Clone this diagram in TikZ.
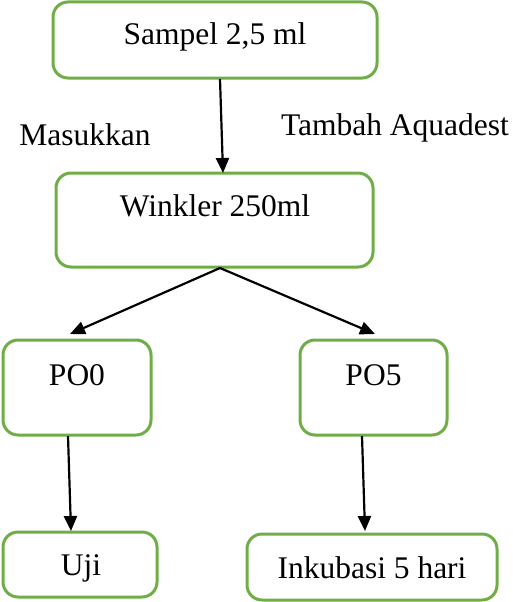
\documentclass[tikz,border=0pt]{standalone}
\usepackage{fontspec}
\setmainfont{Liberation Serif}
\usetikzlibrary{arrows.meta}
\definecolor{boxgreen}{RGB}{112,173,71}
\begin{document}
\begin{tikzpicture}[x=1pt,y=-1pt,
  box/.style={draw=boxgreen,line width=3pt,rounded corners=15pt,inner sep=0pt},
  txt/.style={anchor=base,inner sep=0pt,font=\fontsize{31.5}{38}\selectfont},
  arr/.style={line width=2.2pt,-{Triangle[length=15pt,width=13pt]}}]
\useasboundingbox (0,0) rectangle (512,602);
% boxes
\node[box,minimum width=324pt,minimum height=76pt] (b1) at (215,40) {};
\node[box,minimum width=317pt,minimum height=94pt] (b2) at (214.5,220) {};
\node[box,minimum width=148pt,minimum height=95pt] (b3) at (77,387.5) {};
\node[box,minimum width=147pt,minimum height=95pt] (b4) at (373.5,387.5) {};
\node[box,minimum width=154pt,minimum height=65pt] (b5) at (80,564.5) {};
\node[box,minimum width=250pt,minimum height=66pt] (b6) at (372,567) {};
% texts
\node[txt] (t1) at (215,45) {Sampel 2,5 ml};
\node[txt] (t2) at (215,216) {Winkler 250ml};
\node[txt] (t3) at (77,385) {PO0};
\node[txt] (t4) at (373.5,385) {PO5};
\node[txt] (t5) at (81,575) {Uji};
\node[txt] (t6) at (372,578) {Inkubasi 5 hari};
\node[txt] (l1) at (85,145) {Masukkan};
\node[txt] (l2) at (395,135) {Tambah Aquadest};
% connector ends
\coordinate (a1s) at (220,79);
\coordinate (a1e) at (223,173);
\coordinate (a2s) at (220,268);
\coordinate (a2e) at (70,334);
\coordinate (a3e) at (375,334);
\coordinate (a4s) at (68,436);
\coordinate (a4e) at (71,531);
\coordinate (a5s) at (362,436);
\coordinate (a5e) at (365,531);
\draw[arr] (a1s) -- (a1e);
\draw[arr] (a2s) -- (a2e);
\draw[arr] (a2s) -- (a3e);
\draw[arr] (a4s) -- (a4e);
\draw[arr] (a5s) -- (a5e);
\end{tikzpicture}
\end{document}
